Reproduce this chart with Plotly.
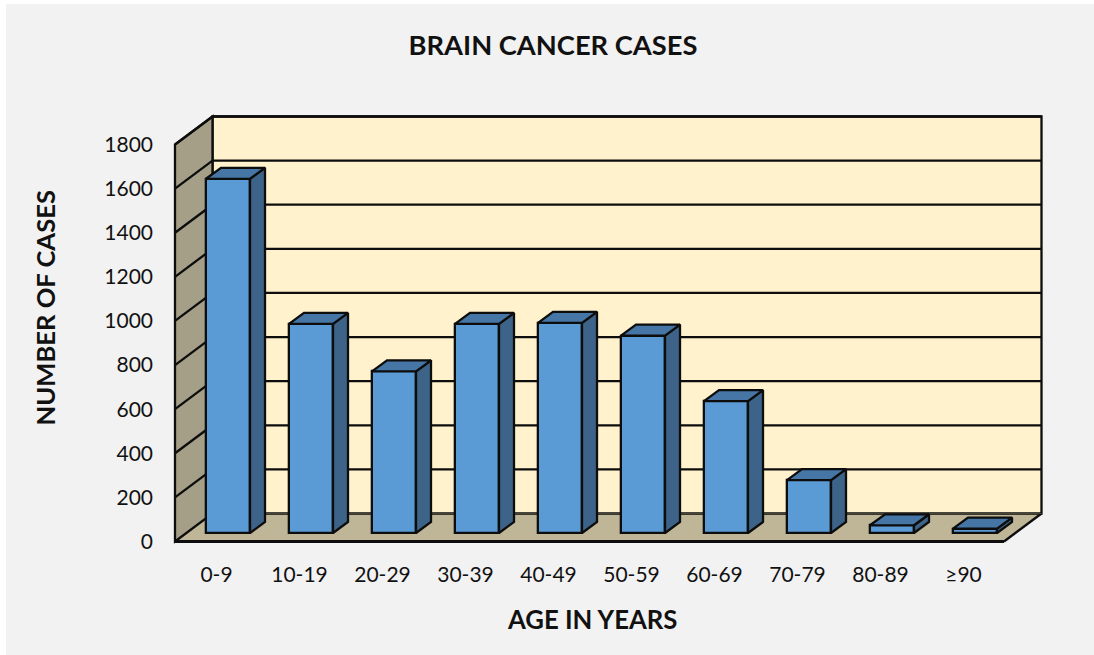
import plotly.graph_objects as go

categories = ["0-9", "10-19", "20-29", "30-39", "40-49", "50-59", "60-69", "70-79", "80-89", "≥90"]
cases = [1606, 948, 733, 948, 953, 895, 598, 240, 35, 20]
y_ticks = [0, 200, 400, 600, 800, 1000, 1200, 1400, 1600, 1800]

W, H = 1094, 655
PX_X = 83              # pixels per category
PX_Y = 397 / 1800      # pixels per case
X0_PX = 216.5          # pixel of first category
Y0_PX = 541.5          # pixel of value 0
L, R, T, B = 170, 1050, 110, 546  # plot area in pixels

xr = [(L - X0_PX) / PX_X, (R - X0_PX) / PX_X]
yr = [(Y0_PX - B) / PX_Y, (Y0_PX - T) / PX_Y]

WALL_DX, WALL_DY = 37.5 / PX_X, 28 / PX_Y
BAR_OFF_X, BAR_OFF_Y = 11.5 / PX_X, 8.5 / PX_Y
BAR_DX, BAR_DY = 15 / PX_X, 11 / PX_Y
BAR_W = 44 / PX_X
XL, XH = -0.5, 9.5 - 1 / PX_X
TOP = 1800
EDGE = "#0d0d0d"
LW = 2.3


def poly(xs, ys):
    return "M " + " L ".join(f"{x},{y}" for x, y in zip(xs, ys)) + " Z"


shapes = [
    dict(type="rect", xref="paper", yref="paper", layer="below",
         x0=(6 - L) / (R - L), x1=(W - L) / (R - L), y0=(B - H) / (B - T), y1=(B - 4) / (B - T),
         fillcolor="#F2F2F2", line_width=0),
    # floor
    dict(type="path", layer="below", xref="x", yref="y",
         path=poly([XL, XH, XH + WALL_DX, XL + WALL_DX], [0, 0, WALL_DY, WALL_DY]),
         fillcolor="#BFB698", line_width=0),
    # back wall
    dict(type="path", layer="below", xref="x", yref="y",
         path=poly([XL + WALL_DX, XH + WALL_DX, XH + WALL_DX, XL + WALL_DX],
                   [WALL_DY, WALL_DY, TOP + WALL_DY, TOP + WALL_DY]),
         fillcolor="#FFF2CC", line=dict(color=EDGE, width=LW)),
    # side wall
    dict(type="path", layer="below", xref="x", yref="y",
         path=poly([XL, XL + WALL_DX, XL + WALL_DX, XL], [0, WALL_DY, TOP + WALL_DY, TOP]),
         fillcolor="#A69F88", line=dict(color=EDGE, width=LW)),
]
for v in y_ticks[1:]:
    shapes.append(dict(type="line", layer="below", xref="x", yref="y",
                       x0=XL + WALL_DX, x1=XH + WALL_DX, y0=v + WALL_DY, y1=v + WALL_DY,
                       line=dict(color=EDGE, width=LW)))
    shapes.append(dict(type="line", layer="below", xref="x", yref="y",
                       x0=XL, x1=XL + WALL_DX, y0=v, y1=v + WALL_DY,
                       line=dict(color=EDGE, width=LW)))
# floor edges
shapes.append(dict(type="line", layer="below", xref="x", yref="y", x0=XL, x1=XH, y0=0, y1=0,
                   line=dict(color=EDGE, width=3)))
shapes.append(dict(type="line", layer="below", xref="x", yref="y", x0=XH, x1=XH + WALL_DX, y0=0, y1=WALL_DY,
                   line=dict(color=EDGE, width=LW)))
shapes.append(dict(type="line", layer="below", xref="x", yref="y", x0=XL + WALL_DX, x1=XH + WALL_DX,
                   y0=WALL_DY, y1=WALL_DY, line=dict(color="#4a4636", width=1)))

idx = list(range(len(categories)))
cx = [i + BAR_OFF_X for i in idx]

fig = go.Figure()
fig.add_trace(go.Bar(x=cx, y=cases, base=[BAR_OFF_Y] * len(cases), width=BAR_W,
                     marker=dict(color="#5B9BD5", line=dict(color=EDGE, width=LW)),
                     hovertemplate="%{customdata}: %{y}<extra></extra>", customdata=categories))

side_x, side_y, top_x, top_y = [], [], [], []
for c, v in zip(cx, cases):
    r, l = c + BAR_W / 2, c - BAR_W / 2
    b, t = BAR_OFF_Y, BAR_OFF_Y + v
    side_x += [r, r + BAR_DX, r + BAR_DX, r, r, None]
    side_y += [b, b + BAR_DY, t + BAR_DY, t, b, None]
    top_x += [l, r, r + BAR_DX, l + BAR_DX, l, None]
    top_y += [t, t, t + BAR_DY, t + BAR_DY, t, None]

fig.add_trace(go.Scatter(x=side_x, y=side_y, mode="lines", fill="toself", fillcolor="#3D6488",
                         line=dict(color=EDGE, width=LW), hoverinfo="skip"))
fig.add_trace(go.Scatter(x=top_x, y=top_y, mode="lines", fill="toself", fillcolor="#4676A5",
                         line=dict(color=EDGE, width=LW), hoverinfo="skip"))

FONT = "Lato, Carlito, sans-serif"
fig.update_layout(
    width=W, height=H, showlegend=False, bargap=0,
    paper_bgcolor="white", plot_bgcolor="rgba(0,0,0,0)",
    margin=dict(l=L, r=W - R, t=T, b=H - B, pad=0),
    font=dict(family=FONT, size=21, color="#111111"),
    title=dict(text="<b>BRAIN CANCER CASES</b>", x=553 / W, xref="container", xanchor="center",
               y=1 - 45 / H, yref="container", yanchor="middle", font=dict(size=27.3, color="#111111")),
    shapes=shapes,
    annotations=[
        dict(text="<b>AGE IN YEARS</b>", xref="paper", yref="paper", showarrow=False,
             x=(592 - L) / (R - L), y=(B - 619) / (B - T), xanchor="center", yanchor="middle",
             font=dict(size=25.7)),
        dict(text="<b>NUMBER OF CASES</b>", xref="paper", yref="paper", showarrow=False, textangle=-90,
             x=(44 - L) / (R - L), y=(B - 308.5) / (B - T), xanchor="center", yanchor="middle",
             font=dict(size=25.6)),
    ],
    xaxis=dict(range=xr, tickvals=idx, ticktext=categories, showgrid=False, zeroline=False,
               showline=False, ticks="", ticklabelstandoff=14, fixedrange=True),
    yaxis=dict(range=yr, tickvals=y_ticks, showgrid=False, zeroline=False, showline=False,
               ticks="", ticklabelstandoff=16, tickformat="d", fixedrange=True),
)
fig.write_html("out.html", config={"displayModeBar": False},
               post_script="document.body.style.margin='0';document.body.style.overflow='hidden';")
